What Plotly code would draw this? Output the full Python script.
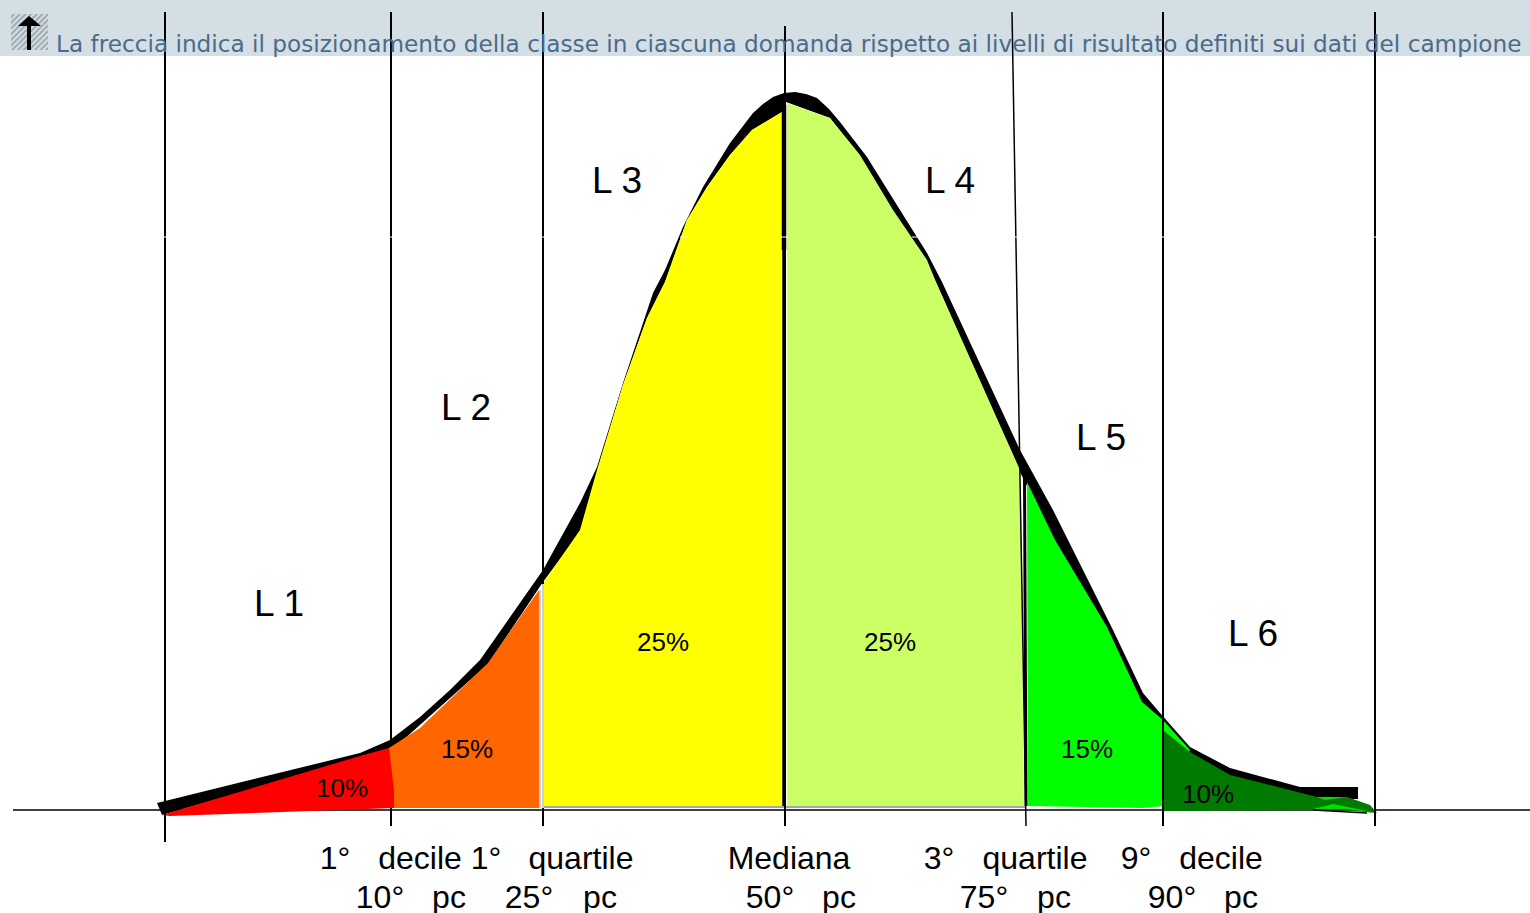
import plotly.graph_objects as go

# Horizontal unit: picture column; vertical unit: height above the base line
BASE = 810
def h(ys):
    return [BASE - y for y in ys]

curve_x = [157,360,390,420,450,480,515,543,580,597,623,653,665,683,703,730,753,763,773,784,795,806,817,829,840,867,900,927,942,1020,1053,1113,1143,1160,1190,1230,1300,1358,1358,1317,1230,1190,1163,1142,1107,1055,1026,1020,927,893,860,830,786,782,752,730,707,687,665,647,623,597,580,543,488,392,360,162]
curve_y = [803,753,740,717,690,660,610,570,503,467,383,293,270,227,187,143,113,104,97,93,92,94,98,109,122,157,210,253,282,450,510,630,693,713,747,768,787,787,799,799,778,755,730,705,629,542,484,472,262,212,157,118,102,112,130,155,187,220,282,318,385,472,532,582,664,750,758,815]

red_x = [162,306,360,389,394,394,306,170]
red_y = [815,772,756,748,790,808,811,816]
orange_x = [389,420,488,539,539,389]
orange_y = [748,728,663,590,808,808]
yellow_x = [544,580,597,623,647,665,687,707,730,752,782,782,544]
yellow_y = [582,530,470,385,318,282,220,187,155,130,112,806,806]
lime_x = [787,830,860,893,927,935,1020,1024,787]
lime_y = [103,118,155,210,260,280,470,806,806]
green_x = [1027,1055,1107,1142,1163,1190,1165,1142,1028]
green_y = [482,540,627,702,720,750,806,808,806]
dark_x = [1163,1190,1230,1317,1347,1370,1377,1340,1164]
dark_y = [730,752,775,797,797,805,813,810,811]
tail_x = [1313,1333,1372,1345]
tail_y = [809,804,812,809]
tail_top_x = [1317,1347,1325]
tail_top_y = [797,797,800]

dividers_x0 = [165,391,391,543,543,785,1012,1163,1375]
dividers_x1 = [165,391,391,543,543,785,1026,1163,1375]
dividers_top = [12,12,808,12,808,26,12,12,12]
dividers_bot = [842,746,826,584,826,826,826,826,826]
divider_w = [2,2,2,2,2,2,1.5,2,2]
seam_x = [165,391,543,684,784,916,1016,1163,1375]

level_labels = ["L 1","L 2","L 3","L 4","L 5","L 6"]
level_x = [279,466,617,950,1101,1253]
level_y = [607,411,184,184,441,637]
pct_labels = ["10%","15%","25%","25%","15%","10%"]
pct_x = [342,467,663,890,1087,1208]
pct_y = [790,751,644,644,751,796]
axis_labels = ["1°","decile","1°","quartile","Mediana","3°","quartile","9°","decile",
               "10°","pc","25°","pc","50°","pc","75°","pc","90°","pc"]
axis_x = [335,420,486,581,789,939,1035,1136,1221,
          380,449,529,600,770,839,984,1054,1172,1241]
axis_y = [861]*9 + [900]*10
header = "La freccia indica il posizionamento della classe in ciascuna domanda rispetto ai livelli di risultato definiti sui dati del campione n"

fig = go.Figure()
def poly(x, y, color):
    fig.add_trace(go.Scatter(x=x, y=h(y), mode="lines", fill="toself", fillcolor=color,
                             line=dict(width=0, color=color), hoverinfo="skip"))
def seg(x, y, color="black", w=1.6):
    fig.add_trace(go.Scatter(x=x, y=h(y), mode="lines", line=dict(color=color, width=w), hoverinfo="skip"))

poly([0,1530,1530,0], [0,0,56,56], "#d3dee5")
fig.add_trace(go.Scatter(x=[11,48,48,11], y=h([14,14,50,50]), mode="lines", fill="toself",
                         fillcolor="rgba(0,0,0,0)", line=dict(width=0),
                         fillpattern=dict(shape="/", fgcolor="#5f6a70", bgcolor="#d3dee5", size=4, solidity=0.45),
                         hoverinfo="skip"))
seg([29,29], [50,24], w=4)
poly([18,29,41], [26,16,26], "black")

seg([13,1530], [810,810], w=1.5)
poly(curve_x, curve_y, "black")
poly(orange_x, orange_y, "#ff6600")
poly(red_x, red_y, "#ff0000")
poly(yellow_x, yellow_y, "#ffff00")
poly(lime_x, lime_y, "#ccff66")
poly(green_x, green_y, "#00ff00")
poly(dark_x, dark_y, "#007a00")
poly(tail_x, tail_y, "#00e000")
poly(tail_top_x, tail_top_y, "#00e000")
seg([1313,1367], [810,813], w=1.5)
seg([544,1026], [807,807], "#8a8a8a", 1.5)
seg([541.5,541.5], [590,808], "white", 2.5)
seg([540,540], [590,808], "#a0a0a0", 1)
seg([543,543], [584,808], "#a0a0a0", 1)
for a, b, t, e, w in zip(dividers_x0, dividers_x1, dividers_top, dividers_bot, divider_w):
    seg([a,b], [t,e], w=w)
seg([784,784], [105,250], w=4.5)
seg([784,784], [250,806], w=3.5)
seg([1024.5,1026], [475,806], w=3)
for s in seam_x:
    seg([s-4,s+4], [237,237], "white", 1)

fig.add_trace(go.Scatter(x=level_x, y=h(level_y), mode="text", text=level_labels,
                         textfont=dict(size=37, color="black", family="Liberation Sans"), hoverinfo="skip"))
fig.add_trace(go.Scatter(x=pct_x, y=h(pct_y), mode="text", text=pct_labels,
                         textfont=dict(size=26, color="black", family="Liberation Sans"), hoverinfo="skip"))
fig.add_trace(go.Scatter(x=axis_x, y=h(axis_y), mode="text", text=axis_labels,
                         textfont=dict(size=32, color="black", family="Liberation Sans"), hoverinfo="skip"))
fig.add_trace(go.Scatter(x=[56], y=h([46]), mode="text", text=[header], textposition="middle right",
                         textfont=dict(size=23.2, color="#4c6b8a", family="DejaVu Sans"), hoverinfo="skip"))

fig.update_layout(width=1530, height=913, margin=dict(l=0,r=0,t=0,b=0), showlegend=False,
                  paper_bgcolor="white", plot_bgcolor="white",
                  xaxis=dict(range=[0,1530], visible=False, fixedrange=True),
                  yaxis=dict(range=[BASE-913,BASE], visible=False, fixedrange=True))
fig.write_html("out.html", config={"displayModeBar": False},
               post_script="document.body.style.margin='0';document.documentElement.style.overflow='hidden';")
